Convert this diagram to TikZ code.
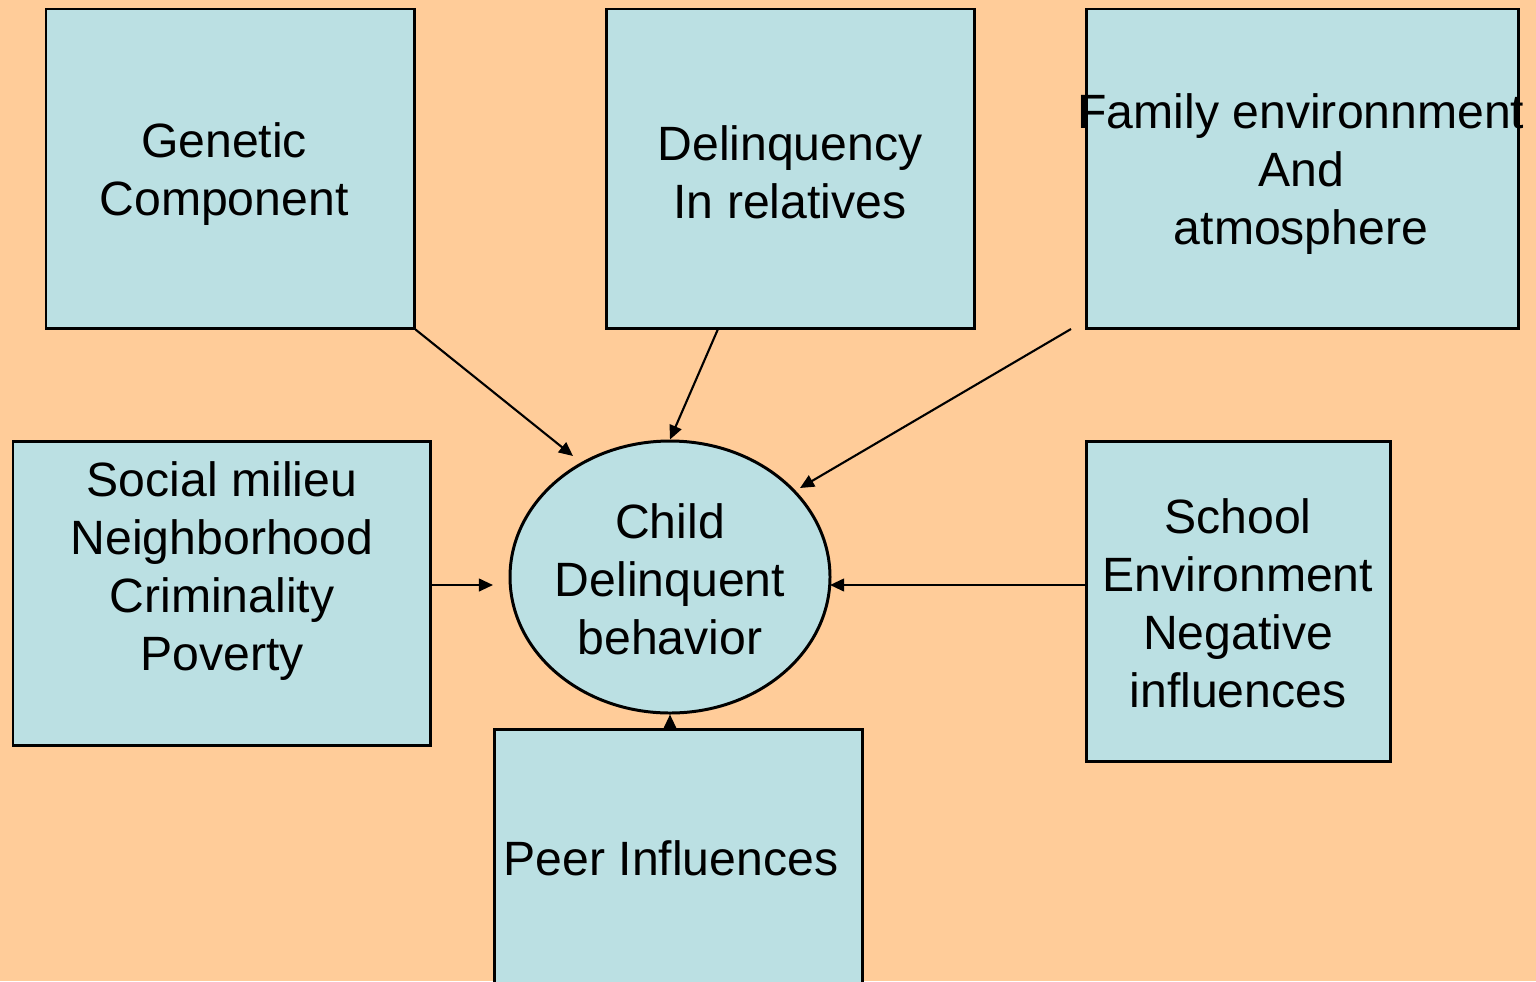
\documentclass[tikz,border=0pt]{standalone}
\usepackage{fontspec}
\setmainfont{Liberation Sans}
\usetikzlibrary{arrows.meta,shapes.geometric}
\definecolor{peach}{RGB}{255,204,153}
\definecolor{paleblue}{RGB}{187,224,227}
\tikzset{
  box/.style={draw,line width=0.85pt,fill=paleblue,inner sep=0pt},
  lbl/.style={align=center,inner sep=0pt,font=\fontsize{13.7}{16.5}\selectfont},
}

\begin{document}
\begin{tikzpicture}[>={Triangle[length=4pt,width=3.6pt]},line width=0.6pt]
\fill[peach](0,0)rectangle(15.36,-9.81);
\useasboundingbox(0,0)rectangle(15.36,-9.81);
% boxes
\node[box,minimum width=3.68cm,minimum height=3.19cm](gen)at(2.30,-1.685){};
\node[box,minimum width=3.68cm,minimum height=3.19cm](rel)at(7.90,-1.685){};
\node[box,minimum width=4.32cm,minimum height=3.19cm](fam)at(13.02,-1.685){};
\node[box,minimum width=4.17cm,minimum height=3.04cm](soc)at(2.215,-5.93){};
\node[box,minimum width=3.04cm,minimum height=3.20cm](sch)at(12.38,-6.01){};
\node[box,minimum width=3.68cm,minimum height=2.71cm](peer)at(6.78,-8.645){};
\node[box,ellipse,minimum width=3.2cm,minimum height=2.72cm](child)at(6.70,-5.77){};
% texts
\node[lbl](gentxt)at(2.24,-1.74){Genetic\\Component};
\node[lbl](reltxt)at(7.90,-1.72){Delinquency\\In relatives};
\node[lbl](famtxt)at(13.01,-1.74){Family environnment\\And\\atmosphere};
\node[lbl](soctxt)at(2.22,-5.71){Social milieu\\Neighborhood\\Criminality\\Poverty};
\node[lbl](schtxt)at(12.38,-6.03){School\\Environment\\Negative\\influences};
\node[lbl](peertxt)at(6.71,-8.58){Peer Influences};
\node[lbl](childtxt)at(6.70,-5.79){Child\\Delinquent\\behavior};
% arrows
\coordinate(gt)at(5.73,-4.56);
\coordinate(rs)at(7.18,-3.29);
\coordinate(fs)at(10.71,-3.29);
\coordinate(ft)at(8.00,-4.88);
\coordinate(ss)at(4.30,-5.85);
\coordinate(st)at(4.93,-5.85);
\coordinate(cs)at(10.86,-5.85);
\coordinate(ct)at(8.30,-5.85);
\foreach \x/\y in {gen.south east/gt,rs/child.north,fs/ft,ss/st,cs/ct,peer.north-|child.south/child.south}
\draw[->](\x)--(\y);
\end{tikzpicture}
\end{document}
